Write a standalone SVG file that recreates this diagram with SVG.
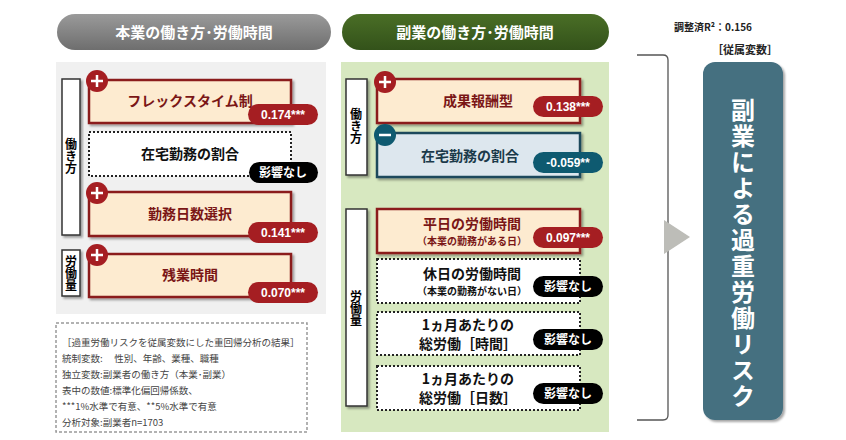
<svg xmlns="http://www.w3.org/2000/svg" width="846" height="440" viewBox="0 0 846 440">
<defs>
<linearGradient id="gh" x1="0" y1="0" x2="0" y2="1"><stop offset="0" stop-color="#9a9a9a"/><stop offset="1" stop-color="#6e6e6e"/></linearGradient>
<linearGradient id="gg" x1="0" y1="0" x2="0" y2="1"><stop offset="0" stop-color="#4a6e26"/><stop offset="1" stop-color="#33521a"/></linearGradient>
<filter id="sh" x="-10%" y="-10%" width="130%" height="140%"><feDropShadow dx="2" dy="2" stdDeviation="1.2" flood-color="#000" flood-opacity="0.35"/></filter>
</defs>
<style>
text{font-family:"Noto Sans CJK JP","Noto Sans",sans-serif;}
.hd{fill:#fff;font-size:15px;font-weight:bold;text-anchor:middle;}
.lab{fill:#fff;stroke:#333;stroke-width:1.5;}
.labt{font-size:12px;font-weight:bold;fill:#000;writing-mode:vertical-rl;}
.pos{fill:#fdebd0;stroke:#8b1a1a;stroke-width:2.5;}
.neg{fill:#dde7ee;stroke:#1b4a5c;stroke-width:2.5;}
.none{fill:#fff;stroke:#222;stroke-width:2;stroke-dasharray:2 2;}
.pt{font-size:14px;font-weight:bold;fill:#7a1616;text-anchor:middle;}
.ps{font-size:10px;font-weight:bold;fill:#7a1616;text-anchor:middle;}
.nt{font-size:14px;font-weight:bold;fill:#1b3a4a;text-anchor:middle;}
.bt{font-size:14px;font-weight:bold;fill:#111;text-anchor:middle;}
.bs{font-size:10px;font-weight:bold;fill:#111;text-anchor:middle;}
.vr{fill:#a51e22;}
.vb{fill:#0e5a70;}
.vk{fill:#000;}
.vt{font-size:12px;font-weight:bold;fill:#fff;text-anchor:middle;font-family:"Liberation Sans","Noto Sans CJK JP",sans-serif;}
.note{font-size:9.5px;fill:#444;}
.big{font-size:24px;font-weight:bold;fill:#fff;writing-mode:vertical-rl;}
</style>
<g id="header-left"><rect x="57" y="14" width="274" height="36" rx="18" fill="url(#gh)"/><text class="hd" x="194" y="38">本業の働き方･労働時間</text></g>
<g id="header-right"><rect x="342" y="14" width="267" height="36" rx="18" fill="url(#gg)"/><text class="hd" x="475" y="38">副業の働き方･労働時間</text></g>
<rect x="56" y="62" width="270" height="252" fill="#f0f0f0"/>
<rect x="341" y="62" width="268" height="370" fill="#d7e8c0"/>
<g id="lab-l1"><rect class="lab" x="62" y="79" width="18" height="156" filter="url(#sh)"/><text class="labt" x="71" y="138">働き方</text></g>
<g id="lab-l2"><rect class="lab" x="62" y="250" width="18" height="46" filter="url(#sh)"/><text class="labt" x="71" y="255">労働量</text></g>
<g id="n-flex"><rect class="pos" x="89" y="80" width="202" height="43" filter="url(#sh)"/><text class="pt" x="190" y="106">フレックスタイム制</text><rect class="vr" x="248" y="104" width="70" height="21" rx="10.5"/><text class="vt" x="283" y="119">0.174***</text><circle cx="97" cy="81" r="11" fill="#a51e22"/><path d="M91 81h12M97 75v12" stroke="#fff" stroke-width="2.5"/></g>
<g id="n-home-l"><rect class="none" x="89" y="132" width="202" height="44"/><text class="bt" x="190" y="159">在宅勤務の割合</text><rect class="vk" x="249" y="162" width="69" height="21" rx="10.5"/><text class="vt" x="283" y="177">影響なし</text></g>
<g id="n-days"><rect class="pos" x="89" y="192" width="202" height="44" filter="url(#sh)"/><text class="pt" x="190" y="219">勤務日数選択</text><rect class="vr" x="248" y="222" width="70" height="21" rx="10.5"/><text class="vt" x="283" y="237">0.141***</text><circle cx="97" cy="193" r="11" fill="#a51e22"/><path d="M91 193h12M97 187v12" stroke="#fff" stroke-width="2.5"/></g>
<g id="n-over"><rect class="pos" x="89" y="254" width="202" height="43" filter="url(#sh)"/><text class="pt" x="190" y="280">残業時間</text><rect class="vr" x="248" y="282" width="70" height="21" rx="10.5"/><text class="vt" x="283" y="297">0.070***</text><circle cx="97" cy="255" r="11" fill="#a51e22"/><path d="M91 255h12M97 249v12" stroke="#fff" stroke-width="2.5"/></g>
<g id="notes"><rect x="56" y="323" width="251" height="109" fill="none" stroke="#999" stroke-width="1.5" stroke-dasharray="3 2"/>
<text class="note" x="62" y="346">［過重労働リスクを従属変数にした重回帰分析の結果］</text>
<text class="note" x="62" y="362">統制変数:　 性別、年齢、業種、職種</text>
<text class="note" x="62" y="378">独立変数:副業者の働き方（本業･副業）</text>
<text class="note" x="62" y="394">表中の数値:標準化偏回帰係数、</text>
<text class="note" x="62" y="410">***1%水準で有意、**5%水準で有意</text>
<text class="note" x="62" y="426">分析対象:副業者n=1703</text></g>
<g id="lab-r1"><rect class="lab" x="346" y="79" width="21" height="96" filter="url(#sh)"/><text class="labt" x="356" y="108">働き方</text></g>
<g id="lab-r2"><rect class="lab" x="346" y="209" width="21" height="197" filter="url(#sh)"/><text class="labt" x="356" y="290">労働量</text></g>
<g id="n-perf"><rect class="pos" x="377" y="79" width="203" height="44" filter="url(#sh)"/><text class="pt" x="478" y="106">成果報酬型</text><rect class="vr" x="533" y="96" width="70" height="21" rx="10.5"/><text class="vt" x="568" y="111">0.138***</text><circle cx="385" cy="82" r="11" fill="#a51e22"/><path d="M379 82h12M385 76v12" stroke="#fff" stroke-width="2.5"/></g>
<g id="n-home-r"><rect class="neg" x="377" y="133" width="203" height="44" filter="url(#sh)"/><text class="nt" x="470" y="161">在宅勤務の割合</text><rect class="vb" x="533" y="152" width="70" height="21" rx="10.5"/><text class="vt" x="568" y="167">-0.059**</text><circle cx="385" cy="135" r="11" fill="#0e5a70"/><path d="M379 135h12" stroke="#fff" stroke-width="2.5"/></g>
<g id="n-weekday"><rect class="pos" x="377" y="209" width="203" height="44" filter="url(#sh)"/><text class="pt" x="472" y="229">平日の労働時間</text><text class="ps" x="472" y="245">（本業の勤務がある日）</text><rect class="vr" x="533" y="227" width="70" height="21" rx="10.5"/><text class="vt" x="568" y="242">0.097***</text></g>
<g id="n-holiday"><rect class="none" x="377" y="259" width="203" height="44"/><text class="bt" x="472" y="279">休日の労働時間</text><text class="bs" x="472" y="295">（本業の勤務がない日）</text><rect class="vk" x="533" y="276" width="70" height="21" rx="10.5"/><text class="vt" x="568" y="291">影響なし</text></g>
<g id="n-month-h"><rect class="none" x="377" y="312" width="203" height="43"/><text class="bt" x="468" y="330">1ヵ月あたりの</text><text class="bt" x="468" y="349">総労働［時間］</text><rect class="vk" x="533" y="329" width="70" height="21" rx="10.5"/><text class="vt" x="568" y="344">影響なし</text></g>
<g id="n-month-d"><rect class="none" x="377" y="366" width="203" height="44"/><text class="bt" x="468" y="384">1ヵ月あたりの</text><text class="bt" x="468" y="403">総労働［日数］</text><rect class="vk" x="533" y="383" width="70" height="21" rx="10.5"/><text class="vt" x="568" y="398">影響なし</text></g>
<g id="connectors"><path d="M637 55 H663 Q668 55 668 60 V415 Q668 420 663 420 H637" fill="none" stroke="#555" stroke-width="1.3"/><polygon points="664,220 690,237 664,254" fill="#bdbdb8"/></g>
<text x="713" y="31" font-size="10" font-weight="bold" fill="#222" text-anchor="middle">調整済R²：0.156</text>
<text x="745" y="54" font-size="11" font-weight="bold" fill="#222" text-anchor="middle">［従属変数］</text>
<g id="n-target"><rect x="703" y="62" width="80" height="358" rx="12" fill="#456f80" filter="url(#sh)"/>
<text class="big" x="743" y="98" letter-spacing="2">副業による過重労働リスク</text>
</g>
</svg>
